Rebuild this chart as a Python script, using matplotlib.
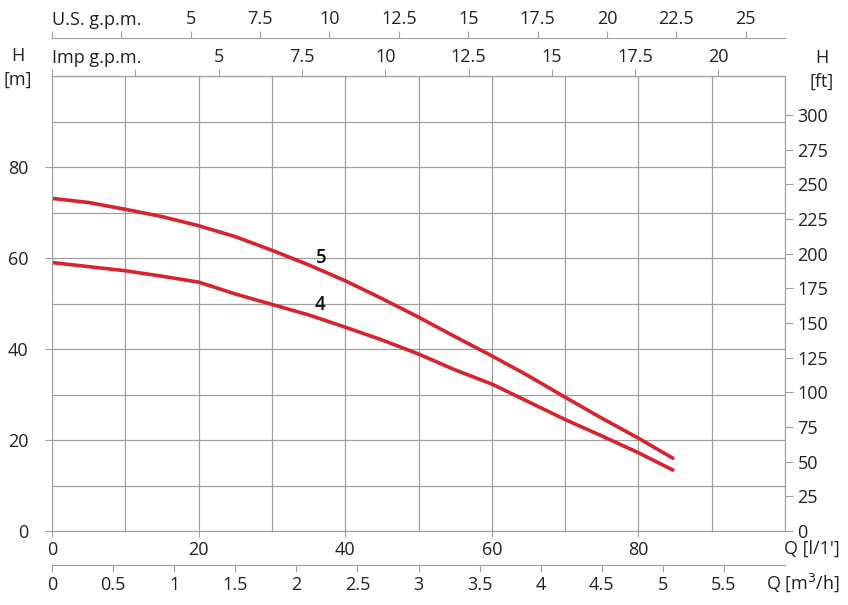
import matplotlib
matplotlib.use("Agg")
import matplotlib.pyplot as plt

plt.rcParams['font.family'] = ['Open Sans', 'DejaVu Sans']
plt.rcParams['font.size'] = 13
plt.rcParams['text.color'] = '#222222'
plt.rcParams['xtick.color'] = '#888888'
plt.rcParams['ytick.color'] = '#888888'
plt.rcParams['xtick.labelcolor'] = '#222222'
plt.rcParams['ytick.labelcolor'] = '#222222'

# flow in l/min, head in m
q = [0, 5, 10, 15, 20, 25, 30, 35, 40, 45, 50, 55, 60, 65, 70, 75, 80, 84.7]
h5 = [73.1, 72.2, 70.7, 69.1, 67.1, 64.7, 61.7, 58.5, 55.0, 51.1, 47.0, 42.7,
      38.5, 34.1, 29.4, 24.8, 20.4, 16.0]
h4 = [59.0, 58.1, 57.2, 56.0, 54.7, 52.1, 49.8, 47.5, 44.8, 42.0, 38.9, 35.4,
      32.3, 28.4, 24.5, 20.9, 17.2, 13.4]

q_ticks = [0, 20, 40, 60, 80]
h_ticks = [0, 20, 40, 60, 80]
ft_ticks = [0, 25, 50, 75, 100, 125, 150, 175, 200, 225, 250, 275, 300]
m3h_ticks = [0, 0.5, 1, 1.5, 2, 2.5, 3, 3.5, 4, 4.5, 5, 5.5]
us_ticks = [0, 2.5, 5, 7.5, 10, 12.5, 15, 17.5, 20, 22.5, 25]
imp_ticks = [0, 2.5, 5, 7.5, 10, 12.5, 15, 17.5, 20]

grey = '#a0a0a0'
red = '#d8232f'

fig = plt.figure(figsize=(8.48, 6.05), dpi=100)
ax = fig.add_axes([52/848, 74/605, 733/848, 455/605])
ax.set_xlim(0, 100)
ax.set_ylim(0, 100)

ax.set_xticks(q_ticks)
ax.set_xticks(range(0, 101, 10), minor=True)
ax.set_yticks(h_ticks)
ax.set_yticks(range(0, 101, 10), minor=True)
ax.grid(which='both', color=grey, linewidth=0.9)
ax.tick_params(which='minor', length=0)
ax.tick_params(axis='x', which='major', length=4, pad=3, color=grey)
ax.tick_params(axis='y', which='major', length=5, pad=12, color=grey)
for s in ax.spines.values():
    s.set_color(grey)

ax.plot(q, h5, color=red, linewidth=2.6, solid_capstyle='round')
ax.plot(q, h4, color=red, linewidth=2.6, solid_capstyle='round')
ax.text(36.8, 60, '5', ha='center', va='center', fontsize=13.5,
        fontweight='semibold', color='#111111')
ax.text(36.6, 49.6, '4', ha='center', va='center', fontsize=13.5,
        fontweight='semibold', color='#111111')

# right axis in feet
ax2 = ax.twinx()
ax2.set_ylim(0, 100 / 0.3048)
ax2.set_yticks(ft_ticks)
ax2.tick_params(axis='y', length=6, pad=3, color=grey)
for s in ax2.spines.values():
    s.set_visible(False)

# bottom m3/h axis
bx = ax.secondary_xaxis(-34/455, functions=(lambda v: v * 0.06, lambda m: m / 0.06))
bx.set_xticks(m3h_ticks)
bx.set_xticklabels([f'{t:g}' for t in m3h_ticks])
bx.tick_params(length=5, pad=3, color=grey)
bx.spines['bottom'].set_color(grey)

# top Imp gpm axis
tx = ax.secondary_xaxis('top', functions=(lambda v: v / 4.546, lambda g: g * 4.546))
tx.set_xticks(imp_ticks)
tx.set_xticklabels(['', ''] + [f'{t:g}' for t in imp_ticks[2:]])
tx.tick_params(length=5, pad=2, color=grey)
tx.spines['top'].set_color(grey)

# top US gpm axis
ux = ax.secondary_xaxis(1 + 38/455, functions=(lambda v: v / 3.785, lambda g: g * 3.785))
ux.set_xticks(us_ticks)
ux.set_xticklabels(['', ''] + [f'{t:g}' for t in us_ticks[2:]])
ux.tick_params(length=5, pad=2, color=grey)
ux.spines['top'].set_color(grey)

fig.text(52/848, 1 - 20/605, 'U.S. g.p.m.', ha='left', va='center')
fig.text(52/848, 1 - 58/605, 'Imp g.p.m.', ha='left', va='center')
fig.text(18/848, 1 - 56/605, 'H', ha='center', va='center')
fig.text(18/848, 1 - 80/605, '[m]', ha='center', va='center')
fig.text(822/848, 1 - 58/605, 'H', ha='center', va='center')
fig.text(822/848, 1 - 82/605, '[ft]', ha='center', va='center')
fig.text(840/848, 1 - 549/605, "Q [l/1']", ha='right', va='center')
fig.text(840/848, 1 - 583/605, 'Q [m$^3$/h]', ha='right', va='center')

fig.savefig('out.png', dpi=100)
